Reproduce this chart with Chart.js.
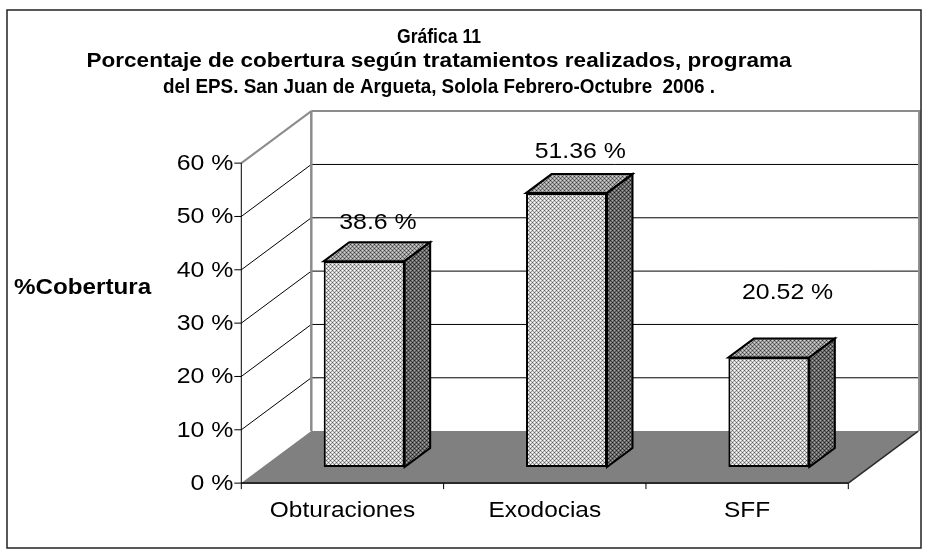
<!DOCTYPE html>
<html>
<head>
<meta charset="utf-8">
<script src="https://cdn.jsdelivr.net/npm/chart.js@4.4.1/dist/chart.umd.min.js"></script>
<style>
  html, body { margin: 0; padding: 0; background: #fff; }
  #wrap { width: 926px; height: 553px; }
</style>
</head>
<body>
<div id="wrap"><canvas id="chart"></canvas></div>
<script>
// --- data ---
const titleLines = [
    'Gráfica 11',
    'Porcentaje de cobertura según tratamientos realizados, programa',
    'del EPS. San Juan de Argueta, Solola Febrero-Octubre  2006 .'
];
const categories = ['Obturaciones', 'Exodocias', 'SFF'];
const coverage = [38.6, 51.36, 20.52];
const valueLabels = ['38.6 %', '51.36 %', '20.52 %'];
const yTicks = [0, 10, 20, 30, 40, 50, 60];
const yTickLabels = ['0 %', '10 %', '20 %', '30 %', '40 %', '50 %', '60 %'];
const yAxisTitle = '%Cobertura';

// --- 3d look ---
const DEPTH = { dx: 70, dy: -52 };   // floor depth, front axis -> back wall
const BAR_INSET = 0.31;              // where the bar front sits inside the depth
const BAR_DEPTH = 0.365;             // how deep the bar is
const labelDx = [1, 1, 6];           // Excel moved the labels a bit by hand
const labelLift = [-1, 2, 26];
const TEXT_STRETCH = 1.13;           // glyphs in the picture are drawn wide
const titleWidths = [84, 705, 552];  // each title line is squeezed differently
const titleBaselines = [43, 67, 93];

const canvas = document.getElementById('chart');
const ctx0 = canvas.getContext('2d');

function makePattern(white, dark, light, mid) {
    const tile = document.createElement('canvas');
    tile.width = 4; tile.height = 4;
    const g = tile.getContext('2d');
    for (let y = 0; y < 4; y++) {
        for (let x = 0; x < 4; x++) {
            let c;
            if (x % 2 === 0 && y % 2 === 0) c = ((x / 2 + y / 2) % 2 === 0) ? white : dark;
            else if (x % 2 === 1 && y % 2 === 1) c = mid;
            else c = light;
            g.fillStyle = c;
            g.fillRect(x, y, 1, 1);
        }
    }
    return ctx0.createPattern(tile, 'repeat');
}

const frontFill = makePattern('#ffffff', '#5a5a5a', '#d4d4d4', '#9a9a9a');
const topFill = makePattern('#d0d0d0', '#3c3c3c', '#a4a4a4', '#7a7a7a');
const sideFill = makePattern('#a8a8a8', '#1e1e1e', '#6e6e6e', '#505050');

function stretchText(ctx, text, x, y, align, sx) {
    ctx.save();
    ctx.translate(x, y);
    ctx.scale(sx, 1);
    ctx.textAlign = align;
    ctx.fillText(text, 0, 0);
    ctx.restore();
}

function line(ctx, x1, y1, x2, y2, color, w) {
    ctx.beginPath();
    ctx.moveTo(x1, y1);
    ctx.lineTo(x2, y2);
    ctx.strokeStyle = color;
    ctx.lineWidth = w;
    ctx.stroke();
}

const depthPlugin = {
    id: 'depth3d',
    beforeDatasetsDraw(chart) {
        const { ctx, chartArea: a, scales: { y } } = chart;
        // front axis plane sits in front of the bars
        const sx = -DEPTH.dx * BAR_INSET, sy = -DEPTH.dy * BAR_INSET;
        const L = a.left + sx, R = a.right + sx;
        const y0 = y.getPixelForValue(0) + sy;
        const yTop = y.getPixelForValue(yTicks[yTicks.length - 1]) + sy;

        ctx.save();
        // floor
        ctx.beginPath();
        ctx.moveTo(L, y0);
        ctx.lineTo(R, y0);
        ctx.lineTo(R + DEPTH.dx, y0 + DEPTH.dy);
        ctx.lineTo(L + DEPTH.dx, y0 + DEPTH.dy);
        ctx.closePath();
        ctx.fillStyle = '#808080';
        ctx.fill();
        line(ctx, R, y0, R + DEPTH.dx, y0 + DEPTH.dy, '#2a2a2a', 1.5);
        line(ctx, L, y0, R, y0, '#2a2a2a', 2);

        // gridlines on the side wall and back wall
        yTicks.forEach((v, i) => {
            if (v === 0) return;
            const yy = y.getPixelForValue(v) + sy;
            const top = i === yTicks.length - 1;
            const col = top ? '#8c8c8c' : '#000';
            const w = top ? 2 : 1;
            line(ctx, L, yy, L + DEPTH.dx, yy + DEPTH.dy, col, w);
            line(ctx, L + DEPTH.dx, yy + DEPTH.dy, R + DEPTH.dx, yy + DEPTH.dy, col, w);
        });
        // back wall edges
        line(ctx, L + DEPTH.dx, yTop + DEPTH.dy, L + DEPTH.dx, y0 + DEPTH.dy, '#8c8c8c', 2.5);
        line(ctx, R + DEPTH.dx + 1, yTop + DEPTH.dy - 1, R + DEPTH.dx + 1, y0 + DEPTH.dy, '#8c8c8c', 2.5);

        // y axis with ticks
        line(ctx, L, yTop, L, y0, '#000', 1);
        yTicks.forEach(v => {
            const yy = y.getPixelForValue(v) + sy;
            line(ctx, L - 7, yy, L, yy, '#000', 1);
        });
        // category ticks
        const step = (R - L) / categories.length;
        for (let k = 0; k <= categories.length; k++) {
            line(ctx, L + k * step, y0, L + k * step, y0 + 6, '#000', 1);
        }
        ctx.restore();
    },
    afterDatasetsDraw(chart) {
        const { ctx } = chart;
        const meta = chart.getDatasetMeta(0);
        const dx = DEPTH.dx * BAR_DEPTH, dy = DEPTH.dy * BAR_DEPTH;
        ctx.save();
        ctx.lineJoin = 'miter';
        ctx.lineWidth = 2;
        ctx.strokeStyle = '#000';
        meta.data.forEach((bar, i) => {
            const p = bar.getProps(['x', 'y', 'base', 'width'], true);
            const l = p.x - p.width / 2, r = p.x + p.width / 2;
            // top face
            ctx.beginPath();
            ctx.moveTo(l, p.y);
            ctx.lineTo(r, p.y);
            ctx.lineTo(r + dx, p.y + dy);
            ctx.lineTo(l + dx, p.y + dy);
            ctx.closePath();
            ctx.fillStyle = topFill;
            ctx.fill();
            ctx.stroke();
            // side face
            ctx.beginPath();
            ctx.moveTo(r, p.y);
            ctx.lineTo(r + dx, p.y + dy);
            ctx.lineTo(r + dx, p.base + dy);
            ctx.lineTo(r, p.base);
            ctx.closePath();
            ctx.fillStyle = sideFill;
            ctx.fill();
            ctx.stroke();

            // value label
            ctx.fillStyle = '#000';
            ctx.font = '22px "Liberation Sans", Arial, sans-serif';
            ctx.textBaseline = 'alphabetic';
            stretchText(ctx, valueLabels[i], p.x + dx / 2 + labelDx[i],
                p.y + dy - 14 - labelLift[i], 'center', TEXT_STRETCH);
        });
        ctx.restore();
    },
    afterDraw(chart) {
        const { ctx, chartArea: a, scales: { x, y } } = chart;
        const sx = -DEPTH.dx * BAR_INSET, sy = -DEPTH.dy * BAR_INSET;
        ctx.save();
        ctx.fillStyle = '#000';
        ctx.textBaseline = 'alphabetic';

        // y tick labels
        ctx.font = '22px "Liberation Sans", Arial, sans-serif';
        yTicks.forEach((v, i) => {
            const yy = y.getPixelForValue(v) + sy;
            stretchText(ctx, yTickLabels[i], a.left + sx - 8, yy + 7, 'right', TEXT_STRETCH);
        });
        // category labels
        categories.forEach((c, i) => {
            stretchText(ctx, c, x.getPixelForValue(i) + sx, 517, 'center', 1.11);
        });
        // axis title
        ctx.font = 'bold 22px "Liberation Sans", Arial, sans-serif';
        stretchText(ctx, yAxisTitle, 14, 294, 'left', 1.1);

        // chart title
        ctx.font = 'bold 20px "Liberation Sans", Arial, sans-serif';
        titleLines.forEach((t, i) => {
            const k = titleWidths[i] / ctx.measureText(t).width;
            stretchText(ctx, t, 439, titleBaselines[i], 'center', k);
        });

        // outer frame
        ctx.strokeStyle = '#222';
        ctx.lineWidth = 1.5;
        ctx.strokeRect(7, 10, 914, 538);
        ctx.restore();
    }
};

new Chart(canvas, {
    type: 'bar',
    data: {
        labels: categories,
        datasets: [{
            data: coverage,
            backgroundColor: frontFill,
            borderColor: '#000',
            borderWidth: 2,
            borderSkipped: false,
            barPercentage: 0.4,
            categoryPercentage: 1
        }]
    },
    options: {
        responsive: true,
        maintainAspectRatio: false,
        animation: false,
        layout: { padding: { left: 263, right: 56, top: 147, bottom: 86 } },
        scales: {
            x: { display: false },
            y: { display: false, min: 0, max: 60 }
        },
        plugins: {
            legend: { display: false },
            tooltip: { enabled: false }
        }
    },
    plugins: [depthPlugin]
});
</script>
</body>
</html>
